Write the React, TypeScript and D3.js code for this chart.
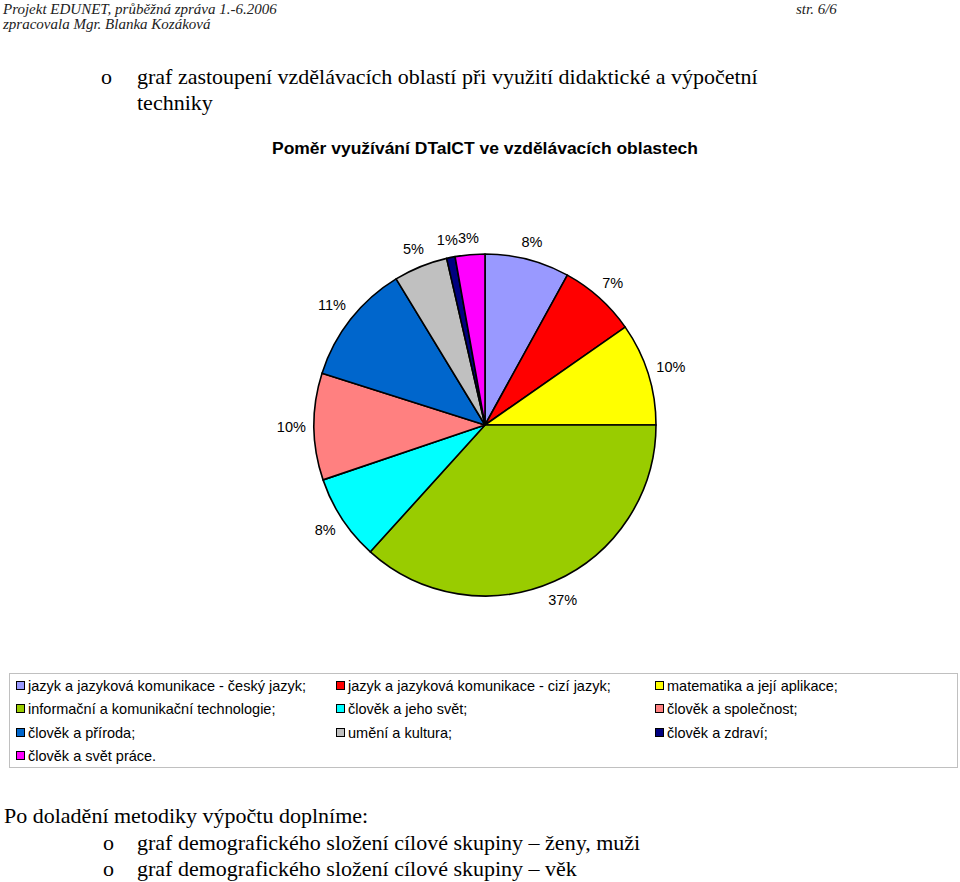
import React from "react";
import * as d3 from "d3";

const categories = [
  "jazyk a jazyková komunikace - český jazyk;",
  "jazyk a jazyková komunikace - cizí jazyk;",
  "matematika a její aplikace;",
  "informační a komunikační technologie;",
  "člověk a jeho svět;",
  "člověk a společnost;",
  "člověk a příroda;",
  "umění a kultura;",
  "člověk a zdraví;",
  "člověk a svět práce.",
];
const values = [8.0, 7.3, 9.7, 36.7, 8.1, 10.1, 11.4, 5.1, 0.8, 2.8];
const labels = ["8%", "7%", "10%", "37%", "8%", "10%", "11%", "5%", "1%", "3%"];
const colors = [
  "#9999FF", "#FF0000", "#FFFF00", "#99CC00", "#00FFFF",
  "#FF8080", "#0066CC", "#C0C0C0", "#000080", "#FF00FF",
];

const headerLines = [
  "Projekt EDUNET, průběžná zpráva 1.-6.2006",
  "zpracovala Mgr. Blanka Kozáková",
];
const pageNo = "str. 6/6";
const introText = ["graf zastoupení vzdělávacích oblastí při využití didaktické a výpočetní", "techniky"];
const chartTitle = "Poměr využívání DTaICT ve vzdělávacích oblastech";
const footerIntro = "Po doladění metodiky výpočtu doplníme:";
const footerBullets = [
  "graf demografického složení cílové skupiny – ženy, muži",
  "graf demografického složení cílové skupiny – věk",
];

export default function App() {
  const W = 960, H = 882;
  const cx = 485, cy = 425, R = 171;
  const pie = d3.pie<number>().sort(null).value((d) => d);
  const arcs = pie(values);
  const arc = d3.arc<d3.PieArcDatum<number>>().innerRadius(0).outerRadius(R);
  const serif = "'Liberation Serif', 'Times New Roman', serif";
  const sans = "'Liberation Sans', Arial, sans-serif";

  const legendCols = [16, 336, 655];
  const legendRows = [686, 709, 733, 756];

  return (
    <svg width={W} height={H} style={{ position: "absolute", left: 0, top: 0, background: "#fff" }}>
      <rect width={W} height={H} fill="#fff" />
      {/* header */}
      <g fontFamily={serif} fontStyle="italic" fontSize={15} fill="#222">
        <text x={3} y={14}>{headerLines[0]}</text>
        <text x={3} y={29}>{headerLines[1]}</text>
        <text x={796} y={14}>{pageNo}</text>
      </g>
      {/* intro bullet */}
      <g fontFamily={serif} fontSize={22} fill="#000">
        <text x={101} y={84}>o</text>
        <text x={137} y={84}>{introText[0]}</text>
        <text x={137} y={110}>{introText[1]}</text>
      </g>
      <text x={272} y={154} textLength={426} lengthAdjust="spacingAndGlyphs" fontFamily={sans} fontWeight="bold" fontSize={16}>{chartTitle}</text>
      {/* pie */}
      <g transform={`translate(${cx},${cy})`}>
        {arcs.map((a, i) => (
          <path key={i} d={arc(a) || ""} fill={colors[i]} stroke="#000" strokeWidth={1.6} strokeLinejoin="round" />
        ))}
        {arcs.map((a, i) => {
          const mid = (a.startAngle + a.endAngle) / 2;
          const s = Math.sin(mid), c = Math.cos(mid);
          const hw = labels[i].length * 4.2, hh = 6;
          const rr = R + 10 + hw * Math.abs(s) + hh * Math.abs(c);
          return (
            <text key={i} x={rr * s} y={-rr * c} dy="0.35em" textAnchor="middle" fontFamily={sans} fontSize={14.5} fill="#000">
              {labels[i]}
            </text>
          );
        })}
      </g>
      {/* legend */}
      <rect x={9.5} y={673.5} width={948} height={94} fill="#fff" stroke="#c0c0c0" strokeWidth={1} />
      {categories.map((c, i) => {
        const col = i % 3, row = Math.floor(i / 3);
        const x = legendCols[col], y = legendRows[row];
        return (
          <g key={i}>
            <rect x={x + 0.5} y={y - 4.5} width={8} height={8} fill={colors[i]} stroke="#000" strokeWidth={1} />
            <text x={x + 12} y={y} dy="0.35em" fontFamily={sans} fontSize={14.5}>{c}</text>
          </g>
        );
      })}
      {/* footer */}
      <g fontFamily={serif} fontSize={22} fill="#000">
        <text x={4} y={823}>{footerIntro}</text>
        {footerBullets.map((t, i) => (
          <g key={i}>
            <text x={103} y={850 + i * 26}>o</text>
            <text x={137} y={850 + i * 26}>{t}</text>
          </g>
        ))}
      </g>
    </svg>
  );
}
